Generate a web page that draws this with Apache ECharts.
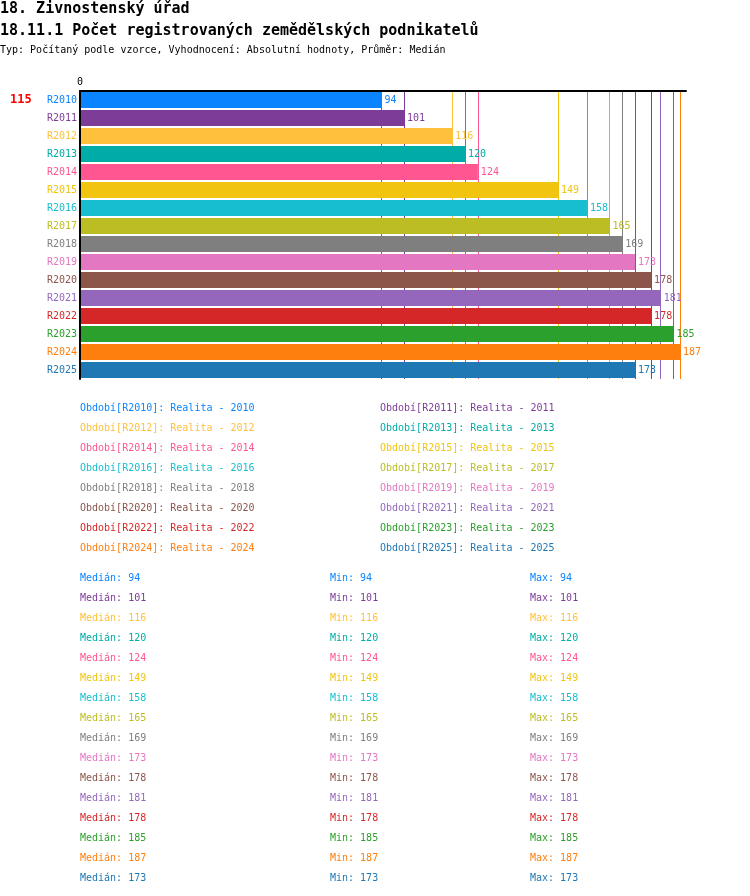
<!DOCTYPE html>
<html>
<head>
<meta charset="utf-8">
<script src="https://cdn.jsdelivr.net/npm/echarts@6/dist/echarts.min.js"></script>
<style>html,body{margin:0;padding:0;background:#fff}#c{width:750px;height:896px}</style>
</head>
<body>
<div id="c"></div>
<script>
var periods = ['R2010','R2011','R2012','R2013','R2014','R2015','R2016','R2017','R2018','R2019','R2020','R2021','R2022','R2023','R2024','R2025'];
var realityLabels = ['Realita - 2010','Realita - 2011','Realita - 2012','Realita - 2013','Realita - 2014','Realita - 2015','Realita - 2016','Realita - 2017','Realita - 2018','Realita - 2019','Realita - 2020','Realita - 2021','Realita - 2022','Realita - 2023','Realita - 2024','Realita - 2025'];
var values = [94,101,116,120,124,149,158,165,169,173,178,181,178,185,187,173];
var medians = [94,101,116,120,124,149,158,165,169,173,178,181,178,185,187,173];
var mins = [94,101,116,120,124,149,158,165,169,173,178,181,178,185,187,173];
var maxs = [94,101,116,120,124,149,158,165,169,173,178,181,178,185,187,173];
var colors = ['#0a84ff','#7d3c98','#ffc13b','#00aca8','#ff5590','#f1c40f','#17becf','#bcbd22','#7f7f7f','#e377c2','#8c564b','#9467bd','#d62728','#2ca02c','#ff7f0e','#1f77b4'];
var headline = '115';
var title1 = '18. Živnostenský úřad';
var title2 = '18.11.1 Počet registrovaných zemědělských podnikatelů';
var subtitle = 'Typ: Počítaný podle vzorce, Vyhodnocení: Absolutní hodnoty, Průměr: Medián';

var FONT = '"DejaVu Sans Mono", "Liberation Mono", monospace';
var chart = echarts.init(document.getElementById('c'), null, {renderer: 'canvas'});

var series = periods.map(function (p, i) {
  var d = periods.map(function (q, j) { return j === i ? values[i] : '-'; });
  return {
    name: p,
    type: 'bar',
    stack: 'all',
    barWidth: 16,
    zlevel: 1,
    z: 3,
    data: d,
    itemStyle: {color: colors[i]},
    label: {show: true, position: 'right', distance: 3, color: colors[i], fontFamily: FONT, fontSize: 10},
    markLine: {
      silent: true,
      zlevel: 0,
      z: 1,
      symbol: 'none',
      label: {show: false},
      lineStyle: {color: colors[i], type: 'solid', width: 1},
      data: [{xAxis: values[i]}]
    }
  };
});

function legendFor(parity, left) {
  return {
    orient: 'vertical',
    left: left,
    top: 398,
    icon: 'rect',
    itemWidth: 0,
    itemHeight: 0,
    itemGap: 0,
    padding: 0,
    selectedMode: false,
    textStyle: {fontFamily: FONT, fontSize: 10, lineHeight: 20},
    formatter: function (name) {
      var i = periods.indexOf(name);
      return 'Období[' + name + ']: ' + realityLabels[i];
    },
    data: periods.filter(function (p, i) { return i % 2 === parity; }).map(function (p) {
      var i = periods.indexOf(p);
      return {name: p, textStyle: {color: colors[i]}};
    })
  };
}

var graphics = [];
periods.forEach(function (p, i) {
  var y = 578 + i * 20;
  var cols = [[80, 'Medián: ' + medians[i]], [330, 'Min: ' + mins[i]], [530, 'Max: ' + maxs[i]]];
  cols.forEach(function (c) {
    graphics.push({
      type: 'text', x: c[0], y: y, silent: true,
      style: {text: c[1], fill: colors[i], font: '10px ' + FONT, verticalAlign: 'middle', align: 'left'}
    });
  });
});

chart.setOption({
  animation: false,
  textStyle: {fontFamily: FONT},
  title: [
    {text: title1, left: 0, top: 2, padding: 0, textStyle: {fontFamily: FONT, fontSize: 15, fontWeight: 'bold', color: '#000'}},
    {text: title2, left: 0, top: 24, padding: 0, textStyle: {fontFamily: FONT, fontSize: 15, fontWeight: 'bold', color: '#000'}},
    {text: subtitle, left: 0, top: 45, padding: 0, textStyle: {fontFamily: FONT, fontSize: 10, fontWeight: 'normal', color: '#000'}},
    {text: headline, left: 10, top: 94, padding: 0, textStyle: {fontFamily: FONT, fontSize: 12, fontWeight: 'bold', color: '#ff0000'}}
  ],
  legend: [legendFor(0, 75), legendFor(1, 375)],
  grid: {left: 80, top: 91, width: 606, height: 288, containLabel: false},
  xAxis: {
    type: 'value',
    position: 'top',
    zlevel: 1,
    min: 0,
    max: 188.87,
    interval: 188.87,
    axisLine: {show: true, lineStyle: {color: '#000', width: 2}},
    axisTick: {show: false},
    splitLine: {show: false},
    axisLabel: {
      show: true, margin: 4, color: '#000', fontFamily: FONT, fontSize: 10,
      formatter: function (v) { return v === 0 ? '0' : ''; }
    }
  },
  yAxis: {
    type: 'category',
    inverse: true,
    zlevel: 1,
    z: 5,
    data: periods,
    axisLine: {show: true, lineStyle: {color: '#000', width: 2}},
    axisTick: {show: false},
    splitLine: {show: false},
    axisLabel: {
      margin: 3, fontFamily: FONT, fontSize: 10,
      color: function (v, i) { return colors[periods.indexOf(v)]; }
    }
  },
  series: series,
  graphic: graphics
});
</script>
</body>
</html>
